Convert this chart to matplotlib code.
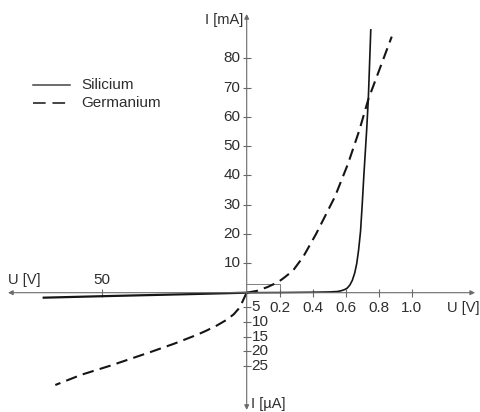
import numpy as np
import matplotlib
matplotlib.use("Agg")
import matplotlib.pyplot as plt

plt.rcParams["font.family"] = ["Liberation Sans", "DejaVu Sans"]

# forward branch: U in V, I in mA ; reverse branch: U in V, I in uA
si_fwd_u = [0.0, 0.2, 0.4, 0.5, 0.55, 0.575, 0.595, 0.61, 0.625, 0.64, 0.655, 0.667, 0.678,
            0.69, 0.70, 0.71, 0.727, 0.737, 0.752]
si_fwd_i = [0.0, 0.05, 0.15, 0.25, 0.4, 0.7, 1.1, 1.6, 2.6, 4.2, 6.8, 10.0, 14.5,
            21.0, 30.0, 40.0, 55.5, 66.0, 89.7]
si_rev_u = [0.0, -20.0, -50.0, -70.0]
si_rev_i = [0.0, -0.5, -1.2, -1.7]

ge_fwd_u = [0.0, 0.06, 0.125, 0.19, 0.224, 0.28, 0.343, 0.42, 0.535, 0.614, 0.683, 0.737, 0.81, 0.879]
ge_fwd_i = [0.0, 0.6, 1.9, 3.6, 5.0, 7.5, 12.3, 20.0, 32.8, 44.0, 55.5, 66.0, 77.0, 87.4]
ge_rev_u = [0.0, -0.5, -1.2, -2.0, -2.9, -4.5, -7.0, -10.3, -14.0, -17.2, -25.0, -33.0, -47.0,
            -57.0, -66.0]
ge_rev_i = [0.0, -1.0, -2.5, -4.2, -5.6, -7.4, -9.3, -11.2, -13.0, -14.4, -17.4, -20.2, -24.9,
            -28.0, -31.5]

ticks_ma = [10, 20, 30, 40, 50, 60, 70, 80]
ticks_ua = [5, 10, 15, 20, 25]
ticks_v = [0.2, 0.4, 0.6, 0.8, 1.0]
tick_labels_v = ["0.2", "0.4", "0.6", "0.8", "1.0"]
ticks_rev_v = [50]

# the negative half of each axis uses another unit / scale
X_NEG = 2.9 / 165.0


def x_fwd(u):
    u = np.asarray(u, dtype=float)
    return np.where(u >= 0, u, u * X_NEG)


def x_inv(t):
    t = np.asarray(t, dtype=float)
    return np.where(t >= 0, t, t / X_NEG)


def y_fwd(i):
    i = np.asarray(i, dtype=float)
    return np.where(i >= 0, i, i * 1000.0)


def y_inv(t):
    t = np.asarray(t, dtype=float)
    return np.where(t >= 0, t, t / 1000.0)


def ua(values):
    return [v / 1000.0 for v in values]


fig = plt.figure(figsize=(4.81, 4.12), dpi=100)
ax = fig.add_axes([0, 0, 1, 1])
ax.set_xscale("function", functions=(x_fwd, x_inv))
ax.set_yscale("function", functions=(y_fwd, y_inv))
ax.set_xlim(-85.07, 1.42)
ax.set_ylim(-0.04072, 99.9)
ax.axis("off")

axis_col = "#6a6a6a"
text_col = "#2e2e2e"
curve_col = "#151515"

# axes with arrows
ax.annotate("", xy=(-82.3, 0), xytext=(1.384, 0),
            arrowprops=dict(arrowstyle="<|-|>", color=axis_col, lw=0.8, mutation_scale=7,
                            shrinkA=0, shrinkB=0))
ax.annotate("", xy=(0, 95.1), xytext=(0, -0.040),
            arrowprops=dict(arrowstyle="<|-|>", color=axis_col, lw=0.8, mutation_scale=7,
                            shrinkA=0, shrinkB=0))

# small scale box near the origin
ax.plot([0, 0.2, 0.2], [3.0, 3.0, 0], color=axis_col, lw=0.6)

# ticks
ax.plot(np.zeros(len(ticks_ma)), ticks_ma, ls="none", marker="_", ms=6, mew=0.8, color=axis_col)
ax.plot(np.zeros(len(ticks_ua)), ua([-t for t in ticks_ua]), ls="none", marker="_", ms=6,
        mew=0.8, color=axis_col)
ax.plot(ticks_v, np.zeros(len(ticks_v)), ls="none", marker="|", ms=6, mew=0.8, color=axis_col)
ax.plot([-t for t in ticks_rev_v], [0], ls="none", marker="|", ms=6, mew=0.8, color=axis_col)

fs = 11
for t in ticks_ma:
    ax.annotate(str(t), xy=(0, t), xytext=(-4.5, 0), textcoords="offset points",
                ha="right", va="center", fontsize=fs, color=text_col)
for t in ticks_ua:
    ax.annotate(str(t), xy=(0, -t / 1000.0), xytext=(3.5, 0), textcoords="offset points",
                ha="left", va="center", fontsize=fs, color=text_col)
for t, lab in zip(ticks_v, tick_labels_v):
    ax.annotate(lab, xy=(t, 0), xytext=(0, -11), textcoords="offset points",
                ha="center", va="center", fontsize=fs, color=text_col)
for t in ticks_rev_v:
    ax.annotate(str(t), xy=(-t, 0), xytext=(0, 9), textcoords="offset points",
                ha="center", va="center", fontsize=fs, color=text_col)

# axis titles (figure pixel positions)
W, H = 481.0, 412.0
ax.text(8 / W, 1 - 280 / H, "U [V]", transform=ax.transAxes, ha="left", va="center",
        fontsize=10.5, color=text_col)
ax.text(447 / W, 1 - 308 / H, "U [V]", transform=ax.transAxes, ha="left", va="center",
        fontsize=10.5, color=text_col)
ax.text(243 / W, 1 - 20 / H, "I [mA]", transform=ax.transAxes, ha="right", va="center",
        fontsize=10.5, color=text_col)
ax.text(251 / W, 1 - 404 / H, "I [µA]", transform=ax.transAxes, ha="left", va="center",
        fontsize=10.5, color=text_col)

# curves
dash = (5.5, 3)
ax.plot(si_fwd_u, si_fwd_i, color=curve_col, lw=1.2)
ax.plot(si_rev_u, ua(si_rev_i), color=curve_col, lw=1.6)
ax.plot(ge_fwd_u, ge_fwd_i, color=curve_col, lw=1.5, dashes=dash)
ax.plot(ge_rev_u, ua(ge_rev_i), color=curve_col, lw=1.5, dashes=dash)

# legend drawn by hand
ax.plot([33 / W, 70 / W], [1 - 85 / H] * 2, transform=ax.transAxes, color="#444444", lw=1.1)
ax.plot([33 / W, 70 / W], [1 - 103 / H] * 2, transform=ax.transAxes, color="#444444", lw=1.4,
        dashes=(6.5, 3.5))
ax.text(81 / W, 1 - 85 / H, "Silicium", transform=ax.transAxes, ha="left", va="center",
        fontsize=fs, color=text_col)
ax.text(81 / W, 1 - 103 / H, "Germanium", transform=ax.transAxes, ha="left", va="center",
        fontsize=fs, color=text_col)

fig.savefig("out.png", dpi=100)
